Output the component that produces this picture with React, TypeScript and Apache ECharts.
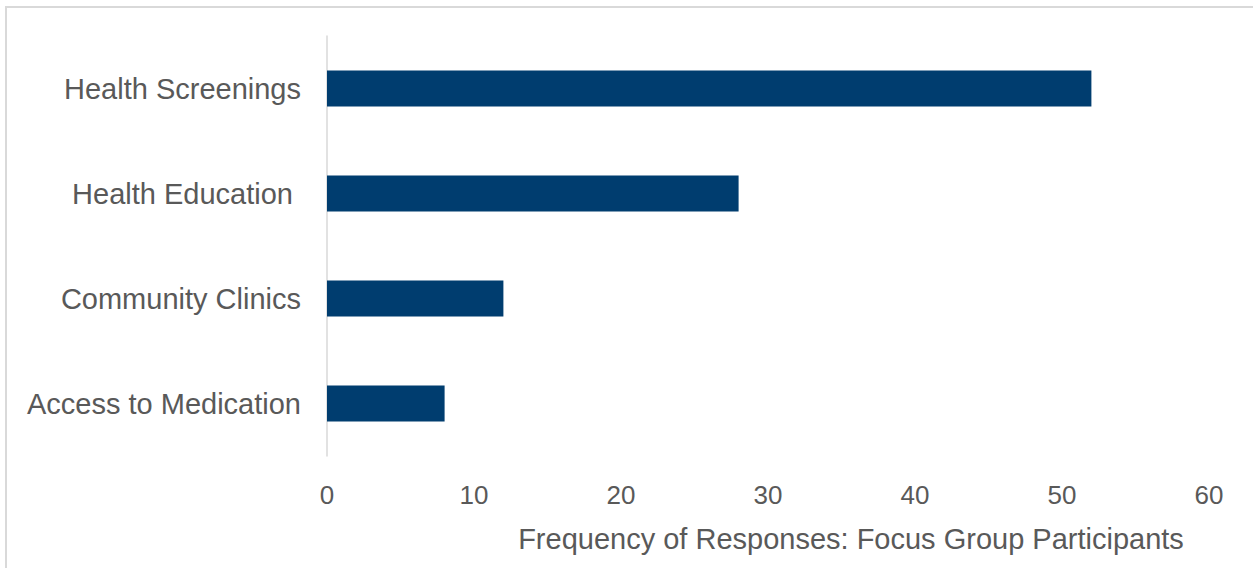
import React, { useEffect, useRef } from "react";
import * as echarts from "echarts";

const categories = ["Health Screenings", "Health Education ", "Community Clinics", "Access to Medication"];
const values = [52, 28, 12, 8];
const xTicks = { min: 0, max: 60, interval: 10 };
const axisTitle = "Frequency of Responses: Focus Group Participants";

export default function App() {
  const ref = useRef<HTMLDivElement>(null);
  useEffect(() => {
    if (!ref.current) return;
    const chart = echarts.init(ref.current, null, { renderer: "svg" });
    const font = "'Liberation Sans', Arial, sans-serif";
    chart.setOption({
      animation: false,
      backgroundColor: "#ffffff",
      grid: { left: 327, right: 44, top: 36, bottom: 112, containLabel: false },
      xAxis: {
        type: "value",
        min: xTicks.min,
        max: xTicks.max,
        interval: xTicks.interval,
        axisLine: { show: false },
        axisTick: { show: false },
        splitLine: { show: false },
        axisLabel: { color: "#595959", fontSize: 26, fontFamily: font, margin: 26 },
      },
      yAxis: {
        type: "category",
        inverse: true,
        data: categories,
        axisLine: { show: true, lineStyle: { color: "#d9d9d9", width: 1.5 } },
        axisTick: { show: false },
        axisLabel: { color: "#595959", fontSize: 29, fontFamily: font, margin: 26 },
      },
      series: [
        {
          type: "bar",
          data: values,
          barWidth: "34.5%",
          itemStyle: { color: "#003d6f" },
        },
      ],
      graphic: [
        {
          type: "rect",
          shape: { x: 6, y: 7, width: 1400, height: 700 },
          style: { fill: "none", stroke: "#d9d9d9", lineWidth: 2 },
          silent: true,
        },
        {
          type: "text",
          x: 851,
          y: 539,
          style: {
            text: axisTitle,
            fill: "#595959",
            fontSize: 29,
            fontFamily: font,
            textAlign: "center",
            textVerticalAlign: "middle",
          },
        },
      ],
    });
    return () => chart.dispose();
  }, []);
  return <div ref={ref} style={{ position: "fixed", left: 0, top: 0, width: 1253, height: 568 }} />;
}
